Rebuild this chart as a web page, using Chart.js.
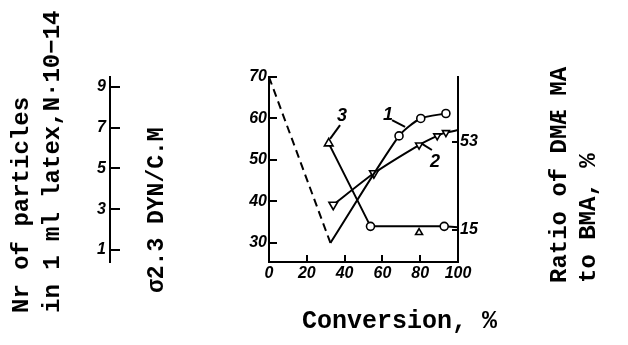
<!DOCTYPE html>
<html>
<head>
<meta charset="utf-8">
<script src="https://cdn.jsdelivr.net/npm/chart.js@4.4.1/dist/chart.umd.min.js"></script>
<style>
  html, body { margin: 0; padding: 0; background: #fff; }
</style>
</head>
<body>
<canvas id="chart" width="628" height="345"></canvas>
<script>
// conversion, % against the left scale (30..70)
const dashedX = [0, 32.5];
const dashedY = [70, 30];
const curve1X = [32.5, 68.8, 80.3, 93.6];
const curve1Y = [30, 55.8, 60, 61.2];
const curve2X = [34, 55.5, 79.4, 89, 93.6, 100];
const curve2Y = [39.2, 46.8, 53.6, 55.8, 56.6, 57.2];
const curve3X = [31.6, 53.7, 92.7, 100];
const curve3Y = [54, 34, 34, 33.8];
const extraX = [79.4];
const extraY = [32.5];

const xTicks = [0, 20, 40, 60, 80, 100];
const yTicks = [30, 40, 50, 60, 70];
const nTicks = [1, 3, 5, 7, 9];
const ratioTicks = [15, 53];

const curveNames = ['1', '2', '3'];

function pts(xs, ys) {
    return xs.map((x, i) => ({ x: x, y: ys[i] }));
}

const tickFont = { family: 'Liberation Sans', size: 16, weight: 'bold', style: 'italic' };

function fixTicks(list) {
    return function (scale) {
        scale.ticks = list.map(v => ({ value: v }));
    };
}

function axisGrid(len) {
    return { drawOnChartArea: false, drawTicks: true, tickLength: len, lineWidth: 2, color: '#000' };
}

// titles and curve numbers
const textPlugin = {
    id: 'texts',
    afterDraw(chart) {
        const ctx = chart.ctx;
        const sx = chart.scales.x, sy = chart.scales.y;
        ctx.save();
        ctx.fillStyle = '#000';
        ctx.strokeStyle = '#000';
        ctx.textBaseline = 'middle';
        ctx.textAlign = 'left';

        function vtext(str, x, y) {
            ctx.save();
            ctx.translate(x, y);
            ctx.rotate(-Math.PI / 2);
            ctx.fillText(str, 0, 0);
            ctx.restore();
        }
        ctx.font = 'bold 24px "Liberation Mono"';
        vtext('Nr of particles', 22, 313);
        vtext('in 1 ml latex,N\u00b710\u221214', 53, 313);
        ctx.font = 'bold 23px "Liberation Mono"';
        vtext('\u03c32.3 DYN/C.M', 157, 293);
        ctx.font = 'bold 24px "Liberation Mono"';
        vtext('Ratio of DM\u00c6 MA', 560, 283);
        vtext('to BMA, %', 589, 283);
        ctx.font = 'bold 25px "Liberation Mono"';
        ctx.fillText('Conversion, %', 302, 322);

        // curve numbers with leader lines, placed in data units
        const marks = [
            { t: curveNames[0], at: [63, 60.8], from: [65.1, 59.6], to: [72, 58] },
            { t: curveNames[1], at: [87.8, 49.5], from: [86.2, 52.4], to: [81, 53.9] },
            { t: curveNames[2], at: [38.6, 60.6], from: [37.6, 58.4], to: [32.3, 55.1] }
        ];
        ctx.font = 'bold italic 18px "Liberation Sans"';
        ctx.textAlign = 'center';
        ctx.lineWidth = 2;
        marks.forEach(m => {
            ctx.fillText(m.t, sx.getPixelForValue(m.at[0]), sy.getPixelForValue(m.at[1]));
            ctx.beginPath();
            ctx.moveTo(sx.getPixelForValue(m.from[0]), sy.getPixelForValue(m.from[1]));
            ctx.lineTo(sx.getPixelForValue(m.to[0]), sy.getPixelForValue(m.to[1]));
            ctx.stroke();
        });
        ctx.restore();
    }
};

const pointCommon = {
    borderColor: '#000',
    borderWidth: 2,
    pointBackgroundColor: '#fff',
    pointBorderColor: '#000',
    pointBorderWidth: 1.6,
    showLine: true,
    yAxisID: 'y'
};

new Chart(document.getElementById('chart'), {
    type: 'scatter',
    data: {
        datasets: [
            Object.assign({}, pointCommon, {
                data: pts(dashedX, dashedY),
                borderDash: [8, 5],
                pointRadius: 0
            }),
            Object.assign({}, pointCommon, {
                data: pts(curve1X, curve1Y),
                tension: 0.25,
                pointStyle: 'circle',
                pointRadius: [0, 4, 4, 4]
            }),
            Object.assign({}, pointCommon, {
                data: pts(curve2X, curve2Y),
                tension: 0.2,
                pointStyle: 'triangle',
                rotation: 180,
                pointRadius: [5, 5, 4, 4, 4, 0]
            }),
            Object.assign({}, pointCommon, {
                data: pts(curve3X, curve3Y),
                tension: 0,
                pointStyle: ['triangle', 'circle', 'circle', 'circle'],
                pointRadius: [5, 4, 4, 0]
            }),
            Object.assign({}, pointCommon, {
                data: pts(extraX, extraY),
                showLine: false,
                pointStyle: 'triangle',
                pointRadius: 4
            })
        ]
    },
    options: {
        responsive: false,
        animation: false,
        devicePixelRatio: 1,
        layout: { padding: { left: 0, right: 0, top: 77, bottom: 0 } },
        plugins: { legend: { display: false }, tooltip: { enabled: false } },
        scales: {
            x: {
                type: 'linear',
                position: 'bottom',
                min: 0,
                max: 100,
                afterBuildTicks: fixTicks(xTicks),
                afterFit(s) { s.height = 83; },
                grid: axisGrid(-7),
                border: { color: '#000', width: 2 },
                ticks: { padding: 9, color: '#000', font: tickFont, maxRotation: 0, autoSkip: false }
            },
            y: {
                type: 'linear',
                position: 'left',
                weight: 0,
                min: 25.4,
                max: 70,
                afterBuildTicks: fixTicks(yTicks),
                afterFit(s) { s.width = 159; },
                grid: axisGrid(-8),
                border: { color: '#000', width: 2 },
                ticks: { padding: 10, color: '#000', font: tickFont, autoSkip: false }
            },
            yN: {
                type: 'linear',
                position: 'left',
                weight: 1,
                min: 0.41,
                max: 9.49,
                afterBuildTicks: fixTicks(nTicks),
                afterFit(s) { s.width = 110; },
                grid: axisGrid(-10),
                border: { color: '#000', width: 2 },
                ticks: { padding: 14, color: '#000', font: tickFont, autoSkip: false }
            },
            yR: {
                type: 'linear',
                position: 'right',
                min: 1.18,
                max: 81.1,
                afterBuildTicks: fixTicks(ratioTicks),
                afterFit(s) { s.width = 170; },
                grid: axisGrid(-6),
                border: { color: '#000', width: 2 },
                ticks: { padding: 8, color: '#000', font: tickFont, autoSkip: false }
            }
        }
    },
    plugins: [textPlugin]
});
</script>
</body>
</html>
